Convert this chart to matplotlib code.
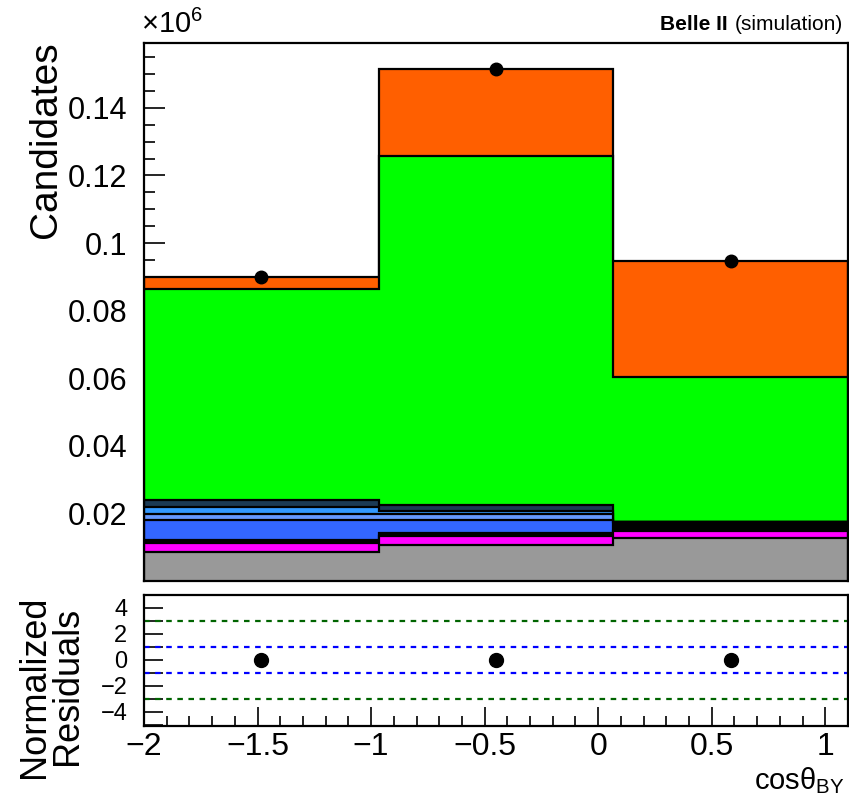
import matplotlib
matplotlib.use("Agg")
import matplotlib.pyplot as plt
import numpy as np
from matplotlib.ticker import MultipleLocator, FixedLocator

plt.rcParams["font.family"] = ["Liberation Sans", "DejaVu Sans"]
plt.rcParams["mathtext.fontset"] = "custom"
plt.rcParams["mathtext.rm"] = "Liberation Sans"
plt.rcParams["mathtext.it"] = "Liberation Sans"

# cos(theta_BY) binning
bin_edges = [-2.0, -0.9667, 0.0667, 1.1]

# stacked MC components (candidates per bin), bottom to top
gray_counts = [8500, 10700, 12800]
magenta_counts = [2800, 2700, 2100]
dark_counts = [900, 900, 2600]
blue_counts = [5900, 3800, 0]
paleblue_counts = [1800, 1800, 0]
lightblue_counts = [1900, 900, 0]
teal_counts = [2300, 1800, 0]
green_counts = [62400, 103100, 42800]
orange_counts = [3500, 25900, 34500]

component_colors = ["#999999", "#ff00ff", "#000000", "#3366ff", "#6699ff",
                    "#3399ff", "#1b3a55", "#00ff00", "#ff5f00"]

data_counts = [90000, 151600, 94800]
residuals = [0.0, 0.0, 0.0]

scale = 1e6

components = [gray_counts, magenta_counts, dark_counts, blue_counts, paleblue_counts,
              lightblue_counts, teal_counts, green_counts, orange_counts]

edges = np.array(bin_edges)
centers = 0.5 * (edges[:-1] + edges[1:])
cumulative = np.cumsum(np.array(components, dtype=float), axis=0) / scale


def minus_fmt(v, p):
    return f"{v:g}".replace("-", "\u2212")


fig = plt.figure(figsize=(8.49, 7.98), dpi=100)
ax = fig.add_axes([0.1696, 0.2719, 0.8292, 0.6742])
rax = fig.add_axes([0.1696, 0.0902, 0.8292, 0.1642])

# draw cumulative histograms from the top down so each layer sits on the one below
for level, color in zip(cumulative[::-1], component_colors[::-1]):
    ax.stairs(level, edges, baseline=0, fill=True, facecolor=color,
              edgecolor="black", linewidth=1.6)

ax.plot(centers, np.array(data_counts) / scale, "o", color="black", markersize=9)

ax.set_xlim(-2.0, 1.1)
ax.set_ylim(0, max(data_counts) / scale * 1.05)
ax.set_axisbelow(True)
ax.yaxis.set_major_locator(MultipleLocator(0.02))
ax.yaxis.set_minor_locator(MultipleLocator(0.005))
ax.yaxis.set_major_formatter(plt.FuncFormatter(lambda v, p: f"{v:g}" if v > 0 else ""))
ax.tick_params(axis="y", which="major", direction="in", length=15, width=1.2,
               labelsize=22, pad=12, right=False)
ax.tick_params(axis="y", which="minor", direction="in", length=8, width=1.2, right=False)
ax.tick_params(axis="x", which="both", length=0, labelbottom=False)
for spine in ax.spines.values():
    spine.set_linewidth(1.6)
ax.set_ylabel("Candidates", fontsize=28)
ax.yaxis.set_label_coords(-0.113, 0.82)

fig.text(0.166, 0.951, r"$\times$10$^{6}$", fontsize=21, ha="left", va="bottom")
fig.text(0.993, 0.958, "(simulation)", fontsize=15, ha="right", va="bottom")
fig.text(0.857, 0.958, "Belle II", fontsize=15, fontweight="bold", ha="right", va="bottom")

# residual panel
dash = (0, (2.5, 2.5))
rax.axhline(3, color="#006400", linestyle=dash, linewidth=1.6)
rax.axhline(-3, color="#006400", linestyle=dash, linewidth=1.6)
rax.axhline(1, color="#0000ff", linestyle=dash, linewidth=1.6)
rax.axhline(-1, color="#0000ff", linestyle=dash, linewidth=1.6)
rax.plot(centers, residuals, "o", color="black", markersize=10)

rax.set_xlim(-2.0, 1.1)
rax.set_ylim(-5.1, 5.0)
rax.yaxis.set_major_locator(FixedLocator([-4, -2, 0, 2, 4]))
rax.yaxis.set_minor_locator(MultipleLocator(1))
rax.xaxis.set_major_locator(MultipleLocator(0.5))
rax.xaxis.set_minor_locator(MultipleLocator(0.1))
rax.xaxis.set_major_formatter(plt.FuncFormatter(minus_fmt))
rax.yaxis.set_major_formatter(plt.FuncFormatter(minus_fmt))
rax.tick_params(axis="x", which="major", direction="in", length=14, width=1.2,
                labelsize=23, pad=4, top=False)
rax.tick_params(axis="x", which="minor", direction="in", length=7, width=1.2, top=False)
rax.tick_params(axis="y", which="major", direction="in", length=14, width=1.2,
                labelsize=17, pad=12, right=False)
rax.tick_params(axis="y", which="minor", direction="in", length=14, width=1.2, right=False)
for spine in rax.spines.values():
    spine.set_linewidth(1.6)

fig.text(0.041, 0.139, "Normalized", fontsize=26, rotation=90, ha="center", va="center")
fig.text(0.080, 0.141, "Residuals", fontsize=26, rotation=90, ha="center", va="center")
fig.text(0.995, 0.003, r"cos$\theta_{\rm BY}$", fontsize=21, ha="right", va="bottom")

fig.savefig("out.png", dpi=100)
